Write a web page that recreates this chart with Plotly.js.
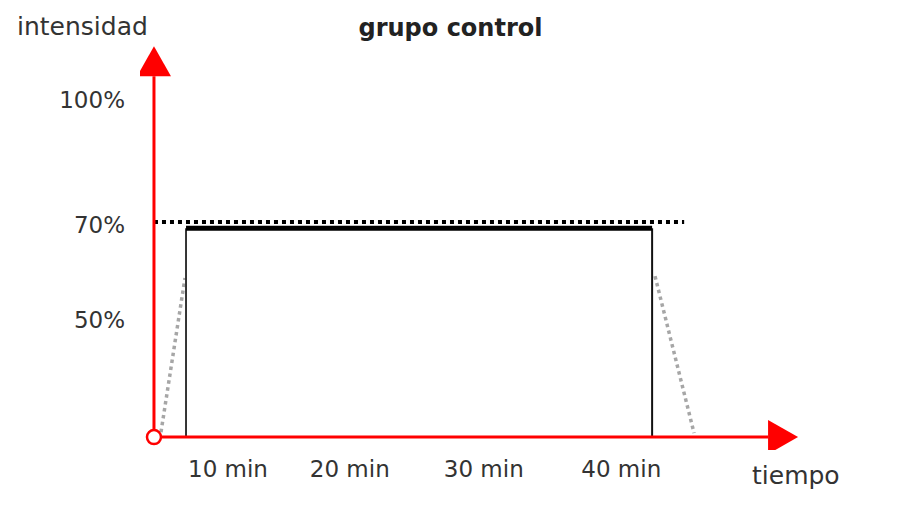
<!DOCTYPE html>
<html>
<head>
<meta charset="utf-8">
<script src="https://cdn.plot.ly/plotly-3.0.1.min.js"></script>
<style>
  html, body { margin: 0; padding: 0; background: #ffffff; }
  #chart { width: 901px; height: 505px; }
</style>
</head>
<body>
<div id="chart"></div>
<script>
// ---- data (schematic: minutes on x, % intensity on y) ----
const blockStartMin = 2.75;
const blockEndMin = 42.75;
const blockIntensity = 68;
const thresholdIntensity = 70;
const thresholdX = [0, 45.5];
const rampUpX = [0.6, 2.66];
const rampUpY = [1.6, 51.8];
const rampDownX = [43.0, 46.35];
const rampDownY = [52.4, 1.3];
const xTickVals = [6.35, 16.8, 28.3, 40.1];
const xTickText = ['10 min', '20 min', '30 min', '40 min'];
const yTickVals = [38.1, 69, 109.7];
const yTickText = ['50%', '70%', '100%'];
const axisTopY = 117.5;
const axisRightX = 52.7;

const FONT = 'DejaVu Sans, sans-serif';
const TXT = '#333333';
const RED = '#ff0000';

const traces = [
  { x: rampUpX, y: rampUpY, mode: 'lines', line: { color: '#a6a6a6', width: 3.5, dash: 'dot' }, hoverinfo: 'skip' },
  { x: rampDownX, y: rampDownY, mode: 'lines', line: { color: '#a6a6a6', width: 3.5, dash: 'dot' }, hoverinfo: 'skip' },
  { x: [blockStartMin, blockStartMin], y: [0, blockIntensity], mode: 'lines', line: { color: '#333333', width: 2 }, hoverinfo: 'skip' },
  { x: [blockEndMin, blockEndMin], y: [0, blockIntensity], mode: 'lines', line: { color: '#111111', width: 2 }, hoverinfo: 'skip' },
  { x: [blockStartMin, blockEndMin], y: [blockIntensity, blockIntensity], mode: 'lines', line: { color: '#000000', width: 5 }, hoverinfo: 'skip' },
  { x: thresholdX, y: [thresholdIntensity, thresholdIntensity], mode: 'lines', line: { color: '#000000', width: 4, dash: 'dot' }, hoverinfo: 'skip' },
  { x: [0, 0], y: [0, axisTopY], mode: 'lines', line: { color: RED, width: 3 }, hoverinfo: 'skip' },
  { x: [0, axisRightX], y: [0, 0], mode: 'lines', line: { color: RED, width: 3 }, hoverinfo: 'skip' },
  { x: [0], y: [0], mode: 'markers', cliponaxis: false,
    marker: { symbol: 'circle', size: 14, color: '#ffffff', line: { color: RED, width: 2.5 } }, hoverinfo: 'skip' }
];

const layout = {
  width: 901, height: 505,
  margin: { l: 140, r: 91, t: 40, b: 55 },
  paper_bgcolor: '#ffffff', plot_bgcolor: '#ffffff',
  showlegend: false,
  font: { family: FONT, color: TXT },
  title: { text: '<b>grupo control</b>', x: 0.5, xref: 'container', xanchor: 'center',
           y: 1 - 28 / 505, yref: 'container', yanchor: 'middle',
           font: { family: FONT, size: 24, color: '#222222' } },
  xaxis: {
    range: [-1.2, 56.3], showgrid: false, zeroline: false, showline: false,
    tickmode: 'array', tickvals: xTickVals, ticktext: xTickText, ticks: '',
    ticklabelstandoff: 3, tickfont: { family: FONT, size: 23, color: TXT }, fixedrange: true
  },
  yaxis: {
    range: [-4.2, 129.3], showgrid: false, zeroline: false, showline: false,
    tickmode: 'array', tickvals: yTickVals, ticktext: yTickText, ticks: '',
    ticklabelstandoff: 14, tickfont: { family: FONT, size: 23, color: TXT }, fixedrange: true
  },
  shapes: [
    { type: 'path', xref: 'x', yref: 'y', xsizemode: 'pixel', ysizemode: 'pixel',
      xanchor: 0, yanchor: axisTopY, path: 'M -17,0 L 17,0 L 0,30 Z',
      fillcolor: RED, line: { width: 0 }, layer: 'above' },
    { type: 'path', xref: 'x', yref: 'y', xsizemode: 'pixel', ysizemode: 'pixel',
      xanchor: axisRightX, yanchor: 0, path: 'M 0,-17 L 0,17 L 30,0 Z',
      fillcolor: RED, line: { width: 0 }, layer: 'above' }
  ],
  annotations: [
    { text: 'intensidad', xref: 'paper', yref: 'paper', x: (82 - 140) / 670, y: (505 - 55 - 27) / 410,
      xanchor: 'center', yanchor: 'middle', showarrow: false, font: { family: FONT, size: 25, color: TXT } },
    { text: 'tiempo', xref: 'paper', yref: 'paper', x: (796 - 140) / 670, y: (505 - 55 - 475) / 410,
      xanchor: 'center', yanchor: 'middle', showarrow: false, font: { family: FONT, size: 25, color: TXT } }
  ]
};

Plotly.newPlot('chart', traces, layout, { displayModeBar: false, staticPlot: true });
</script>
</body>
</html>
